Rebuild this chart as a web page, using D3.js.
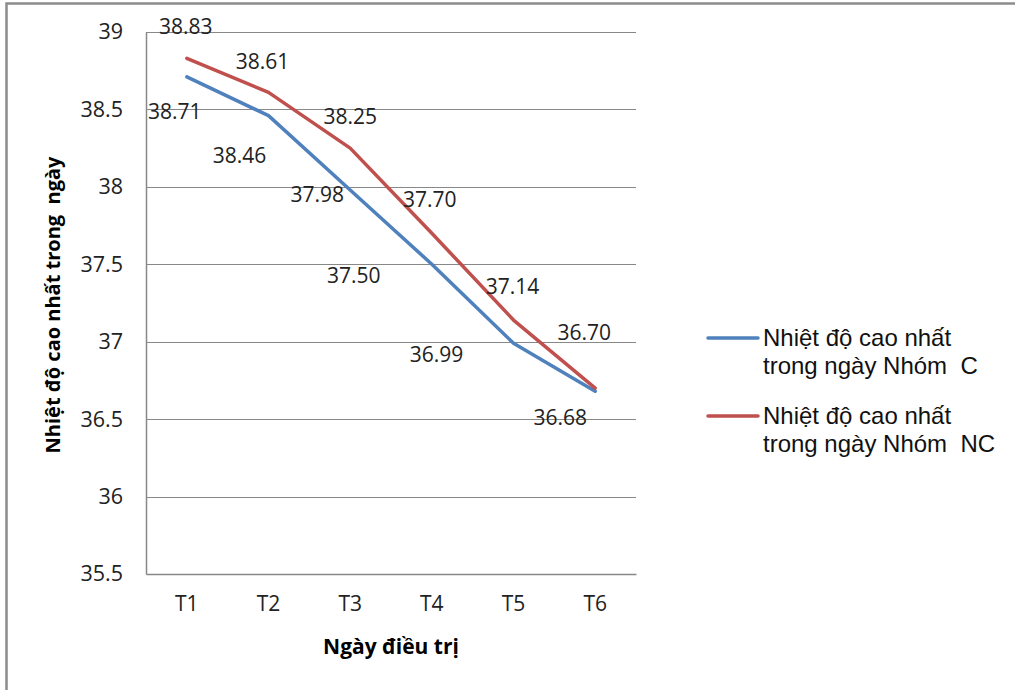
<!DOCTYPE html>
<html>
<head>
<meta charset="utf-8">
<script src="https://cdn.jsdelivr.net/npm/d3@7"></script>
<style>
  html, body { margin: 0; padding: 0; background: #fff; }
  svg { display: block; }
  text { white-space: pre; }
</style>
</head>
<body>
<svg id="chart" width="1015" height="690"></svg>
<script>
// Highest daily temperature by treatment day, two patient groups
const days = ["T1", "T2", "T3", "T4", "T5", "T6"];
const groupC = [38.71, 38.46, 37.98, 37.50, 36.99, 36.68];
const groupNC = [38.83, 38.61, 38.25, 37.70, 37.14, 36.70];
const yTicks = [35.5, 36, 36.5, 37, 37.5, 38, 38.5, 39];
const seriesNames = [
  ["Nhiệt độ cao nhất", "trong ngày Nhóm  C"],
  ["Nhiệt độ cao nhất", "trong ngày Nhóm  NC"]
];
const yTitle = "Nhiệt độ cao nhất trong  ngày";
const xTitle = "Ngày điều trị";

const svg = d3.select("#chart");
const plot = { left: 146, right: 636, top: 32, bottom: 574 };
const colors = ["#4F81BD", "#C0504D"];
const gridColor = "#888888";
const labelFont = "'Open Sans', sans-serif";

// outer frame
svg.append("rect")
  .attr("x", 6.5).attr("y", 3.5)
  .attr("width", 1020).attr("height", 700)
  .attr("fill", "none").attr("stroke", "#8c8c8c").attr("stroke-width", 2.5);

const x = d3.scaleBand().domain(days).range([plot.left, plot.right]).padding(0);
const y = d3.scaleLinear().domain([35.5, 39]).range([plot.bottom, plot.top]);
const cx = d => x(d) + x.bandwidth() / 2;

// horizontal gridlines
svg.append("g")
  .selectAll("line")
  .data(yTicks.filter(t => t > 35.5))
  .join("line")
  .attr("x1", plot.left).attr("x2", plot.right)
  .attr("y1", d => Math.round(y(d)) + 0.5).attr("y2", d => Math.round(y(d)) + 0.5)
  .attr("stroke", gridColor).attr("stroke-width", 1.2);

// y axis
const yAxis = svg.append("g")
  .attr("transform", `translate(${plot.left},0)`)
  .call(d3.axisLeft(y).tickValues(yTicks).tickSize(0).tickPadding(23)
    .tickFormat(d => String(d)));
yAxis.select(".domain").attr("stroke", gridColor).attr("stroke-width", 1.5);
yAxis.selectAll("text")
  .attr("font-family", labelFont).attr("font-size", 21.5).attr("fill", "#222");

// x axis
const xAxis = svg.append("g")
  .attr("transform", `translate(0,${plot.bottom})`)
  .call(d3.axisBottom(x).tickSize(0).tickPadding(22));
xAxis.select(".domain").attr("stroke", gridColor).attr("stroke-width", 1.5);
xAxis.selectAll("text")
  .attr("font-family", labelFont).attr("font-size", 21).attr("fill", "#222");

// axis titles
svg.append("text")
  .attr("transform", `translate(60,305) rotate(-90)`)
  .attr("text-anchor", "middle")
  .attr("font-family", labelFont).attr("font-weight", "bold")
  .attr("font-size", 20).attr("fill", "#000")
  .text(yTitle);

svg.append("text")
  .attr("x", 391).attr("y", 654)
  .attr("text-anchor", "middle")
  .attr("font-family", labelFont).attr("font-weight", "bold")
  .attr("font-size", 21).attr("fill", "#000")
  .text(xTitle);

// lines
const line = d3.line()
  .x((d, i) => cx(days[i]))
  .y(d => y(d));

[groupC, groupNC].forEach((vals, k) => {
  svg.append("path")
    .datum(vals)
    .attr("d", line)
    .attr("fill", "none")
    .attr("stroke", colors[k])
    .attr("stroke-width", 3.5)
    .attr("stroke-linejoin", "round")
    .attr("stroke-linecap", "round");
});

// value labels, nudged off their points so the two series do not collide
const labelNudge = [
  [[-12, 34], [-29, 39], [-33, 4], [-78, 11], [-77, 11], [-35, 26]],
  [[-1, -32], [-6, -31], [0, -32], [-2, -34], [-1, -34], [-11, -56]]
];
[groupC, groupNC].forEach((vals, k) => {
  svg.append("g")
    .selectAll("text")
    .data(vals)
    .join("text")
    .attr("x", (d, i) => cx(days[i]) + labelNudge[k][i][0])
    .attr("y", (d, i) => y(d) + labelNudge[k][i][1])
    .attr("text-anchor", "middle")
    .attr("dominant-baseline", "central")
    .attr("font-family", labelFont).attr("font-size", 21).attr("fill", "#222")
    .text(d => d.toFixed(2));
});

// legend
const legendY = [338, 416];
seriesNames.forEach((lines, k) => {
  const g = svg.append("g");
  g.append("line")
    .attr("x1", 708).attr("x2", 758)
    .attr("y1", legendY[k]).attr("y2", legendY[k])
    .attr("stroke", colors[k]).attr("stroke-width", 3.5)
    .attr("stroke-linecap", "round");
  const t = g.append("text")
    .attr("x", 763).attr("y", legendY[k] + 8)
    .attr("font-family", "'Liberation Sans', Arial, sans-serif")
    .attr("font-size", 24).attr("fill", "#111");
  lines.forEach((ln, j) => {
    t.append("tspan").attr("x", 763).attr("dy", j === 0 ? 0 : 28).text(ln);
  });
});
</script>
</body>
</html>
